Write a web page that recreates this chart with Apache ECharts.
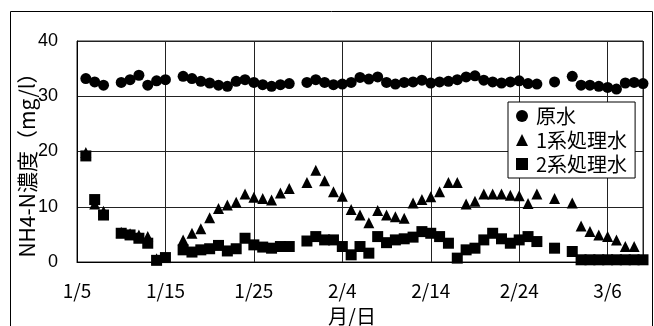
<!DOCTYPE html>
<html>
<head>
<meta charset="utf-8">
<script src="https://cdn.jsdelivr.net/npm/echarts@6/dist/echarts.min.js"></script>
<style>
  html, body { margin: 0; padding: 0; background: #fff; }
  #chart { width: 654px; height: 326px; }
</style>
</head>
<body>
<div id="chart"></div>
<script>
// NH4-N 濃度の日変化（原水・1系処理水・2系処理水）
// x 軸は 1/5 からの経過日数。欠測日は null。
const dates = [
  "1/6", "1/7", "1/8", "1/9", "1/10", "1/11", "1/12", "1/13", "1/14", "1/15",
  "1/16", "1/17", "1/18", "1/19", "1/20", "1/21", "1/22", "1/23", "1/24", "1/25",
  "1/26", "1/27", "1/28", "1/29", "1/30", "1/31", "2/1", "2/2", "2/3", "2/4",
  "2/5", "2/6", "2/7", "2/8", "2/9", "2/10", "2/11", "2/12", "2/13", "2/14",
  "2/15", "2/16", "2/17", "2/18", "2/19", "2/20", "2/21", "2/22", "2/23", "2/24",
  "2/25", "2/26", "2/27", "2/28", "3/1", "3/2", "3/3", "3/4", "3/5", "3/6",
  "3/7", "3/8", "3/9", "3/10"
];
const rawWater = [
  33.2, 32.6, 32.0, null, 32.5, 33.0, 33.8, 32.0, 32.8, 33.0,
  null, 33.6, 33.2, 32.7, 32.4, 32.0, 31.8, 32.7, 33.0, 32.5,
  32.1, 31.8, 32.1, 32.3, null, 32.5, 33.0, 32.5, 32.1, 32.2,
  32.5, 33.4, 33.1, 33.5, 32.5, 32.2, 32.5, 32.6, 32.9, 32.4,
  32.6, 32.7, 33.0, 33.5, 33.7, 32.9, 32.6, 32.4, 32.6, 32.8,
  32.3, 32.2, null, 32.6, null, 33.6, 32.0, 32.0, 31.8, 31.6,
  31.3, 32.4, 32.5, 32.3
];
const treated1 = [
  19.8, 10.5, 9.2, null, 5.4, 5.1, 4.9, 4.6, 0.6, 0.9,
  null, 4.0, 5.2, 6.0, 8.0, 9.7, 10.3, 10.8, 12.3, 11.7,
  11.5, 11.2, 12.5, 13.3, null, 14.4, 16.6, 14.7, 12.7, 11.9,
  9.5, 8.5, 7.1, 9.3, 8.5, 8.2, 7.9, 10.7, 11.3, 11.8,
  12.7, 14.4, 14.4, 10.5, 11.0, 12.3, 12.3, 12.3, 12.1, 12.0,
  10.6, 12.3, null, 11.5, null, 10.7, 6.5, 5.5, 4.9, 4.6,
  4.0, 2.8, 2.8, null
];
const treated2 = [
  19.2, 11.3, 8.5, null, 5.2, 4.9, 4.3, 3.4, 0.3, 0.8,
  null, 2.2, 1.8, 2.2, 2.4, 3.0, 2.0, 2.4, 4.3, 3.1,
  2.7, 2.5, 2.8, 2.8, null, 3.8, 4.6, 4.0, 4.0, 2.8,
  1.3, 2.8, 1.6, 4.6, 3.5, 4.0, 4.2, 4.5, 5.5, 5.2,
  4.6, 3.4, 0.7, 2.2, 2.5, 4.0, 5.2, 4.2, 3.4, 4.0,
  4.6, 3.7, null, 2.5, null, 1.9, 0.4, 0.4, 0.4, 0.4,
  0.4, 0.4, 0.4, 0.4
];
const xTickLabels = ["1/5", "1/15", "1/25", "2/4", "2/14", "2/24", "3/6"];
const seriesNames = ["原水", "1系処理水", "2系処理水"];

// 月初までの日数（平年）
const monthOffset = { 1: 0, 2: 31, 3: 59 };
function dayIndex(md) {
  const [m, d] = md.split("/").map(Number);
  return monthOffset[m] + d - 5;
}
function toPoints(values) {
  const pts = [];
  dates.forEach((md, i) => {
    if (values[i] != null) pts.push([dayIndex(md), values[i]]);
  });
  return pts;
}

const chart = echarts.init(document.getElementById("chart"));
const gridColor = "#222";
const jp = "'Noto Sans CJK JP', sans-serif";
const markStyle = { color: "#000", opacity: 1 };

chart.setOption({
  animation: false,
  backgroundColor: "#fff",
  grid: {
    left: 77, right: 11, top: 41, bottom: 64,
    show: true, borderColor: gridColor, borderWidth: 1
  },
  xAxis: {
    type: "value",
    min: 0,
    max: 64,
    interval: 10,
    axisLine: { show: true, lineStyle: { color: "#000" } },
    axisTick: { show: false },
    splitLine: { show: true, lineStyle: { color: gridColor, width: 1 } },
    axisLabel: {
      margin: 19,
      color: "#000",
      fontSize: 19,
      fontFamily: jp,
      formatter: v => (v % 10 === 0 && xTickLabels[v / 10]) || ""
    }
  },
  yAxis: {
    type: "value",
    min: 0,
    max: 40,
    interval: 10,
    axisLine: { show: true, lineStyle: { color: "#000" } },
    axisTick: { show: false },
    splitLine: { show: true, lineStyle: { color: gridColor, width: 1 } },
    axisLabel: {
      margin: 19,
      color: "#000",
      fontSize: 18,
      fontFamily: "'Liberation Sans', Arial, sans-serif"
    }
  },
  legend: {
    orient: "vertical",
    left: 508,
    top: 102,
    backgroundColor: "#fff",
    borderColor: "#000",
    borderWidth: 1,
    borderRadius: 0,
    padding: [4, 8, 4, 8],
    itemGap: 4,
    itemWidth: 12,
    itemHeight: 12,
    itemStyle: { opacity: 1 },
    textStyle: { color: "#000", fontSize: 20, lineHeight: 20, fontFamily: jp, padding: [0, 0, 0, 3] },
    data: [
      { name: seriesNames[0], icon: "circle" },
      { name: seriesNames[1], icon: "triangle" },
      { name: seriesNames[2], icon: "rect" }
    ]
  },
  graphic: [
    {
      type: "rect",
      silent: true,
      shape: { x: 10.5, y: 11.5, width: 642, height: 330 },
      style: { fill: "none", stroke: "#000", lineWidth: 1 }
    },
    {
      type: "text",
      silent: true,
      x: 27, y: 160,
      rotation: Math.PI / 2,
      style: {
        text: "NH4-N濃度（mg/l）",
        align: "center", verticalAlign: "middle",
        fill: "#000", font: "21px " + jp
      }
    },
    {
      type: "text",
      silent: true,
      x: 352, y: 316,
      style: {
        text: "月/日",
        align: "center", verticalAlign: "middle",
        fill: "#000", font: "20px " + jp
      }
    }
  ],
  series: [
    {
      name: seriesNames[0], type: "scatter", symbol: "circle", symbolSize: 11,
      itemStyle: markStyle, data: toPoints(rawWater)
    },
    {
      name: seriesNames[1], type: "scatter", symbol: "triangle", symbolSize: 11,
      itemStyle: markStyle, data: toPoints(treated1)
    },
    {
      name: seriesNames[2], type: "scatter", symbol: "rect", symbolSize: 11,
      itemStyle: markStyle, data: toPoints(treated2)
    }
  ]
});
</script>
</body>
</html>
